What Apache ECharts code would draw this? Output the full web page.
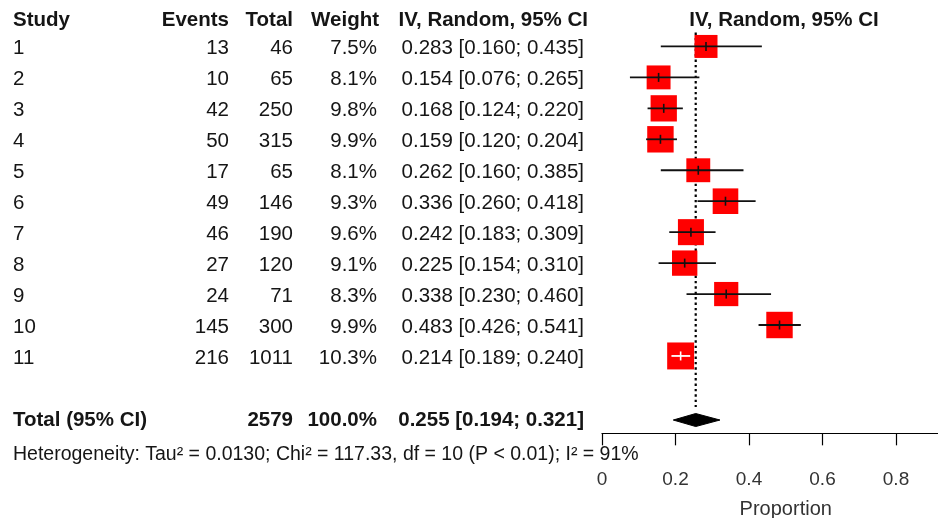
<!DOCTYPE html>
<html>
<head>
<meta charset="utf-8">
<script src="https://cdn.jsdelivr.net/npm/echarts@6/dist/echarts.min.js"></script>
<style>
html,body{margin:0;padding:0;background:#fff;}
#chart{width:938px;height:518px;}
</style>
</head>
<body>
<div id="chart"></div>
<script>
// ---- data ----
const studies = ['1','2','3','4','5','6','7','8','9','10','11'];
const events  = [13, 10, 42, 50, 17, 49, 46, 27, 24, 145, 216];
const totals  = [46, 65, 250, 315, 65, 146, 190, 120, 71, 300, 1011];
const weights = [7.5, 8.1, 9.8, 9.9, 8.1, 9.3, 9.6, 9.1, 8.3, 9.9, 10.3];
const est     = [0.283, 0.154, 0.168, 0.159, 0.262, 0.336, 0.242, 0.225, 0.338, 0.483, 0.214];
const lower   = [0.160, 0.076, 0.124, 0.120, 0.160, 0.260, 0.183, 0.154, 0.230, 0.426, 0.189];
const upper   = [0.435, 0.265, 0.220, 0.204, 0.385, 0.418, 0.309, 0.310, 0.460, 0.541, 0.240];
const pooledEst = 0.255, pooledLower = 0.194, pooledUpper = 0.321;
const pooledTotal = 2579, pooledWeight = '100.0%';
const headers = ['Study', 'Events', 'Total', 'Weight', 'IV, Random, 95% CI'];
const plotHeader = 'IV, Random, 95% CI';
const totalLabel = 'Total (95% CI)';
const hetText = 'Heterogeneity: Tau² = 0.0130; Chi² = 117.33, df = 10 (P < 0.01); I² = 91%';
const xTicks = [0, 0.2, 0.4, 0.6, 0.8];
const xName = 'Proportion';

// ---- layout ----
const ROW_H = 30.95, TOP = 15.5, TEXT_SHIFT = 2;
const FONT = "'Liberation Sans', Arial, sans-serif";
const FS = 20.5;
const TXT = '#151515';
const COL = {study: 13, events: 229, total: 293, weight: 377, ci: 584, ciHead: 588};
const HEAD_ROW = 0.1, TOTAL_ROW = 13, HET_ROW = 14.12;

const fmt3 = v => v.toFixed(3);
const ciStr = (e, l, u) => fmt3(e) + ' [' + fmt3(l) + '; ' + fmt3(u) + ']';

// text items: [x, row, text, align, bold, fontSize]
const textItems = [];
textItems.push([COL.study, HEAD_ROW, headers[0], 'left', true, FS]);
textItems.push([COL.events, HEAD_ROW, headers[1], 'right', true, FS]);
textItems.push([COL.total, HEAD_ROW, headers[2], 'right', true, FS]);
textItems.push([COL.weight + 2, HEAD_ROW, headers[3], 'right', true, FS]);
textItems.push([COL.ciHead, HEAD_ROW, headers[4], 'right', true, FS]);
textItems.push([784, HEAD_ROW, plotHeader, 'center', true, FS]);
studies.forEach((s, i) => {
  const r = i + 1;
  textItems.push([COL.study, r, s, 'left', false, FS]);
  textItems.push([COL.events, r, String(events[i]), 'right', false, FS]);
  textItems.push([COL.total, r, String(totals[i]), 'right', false, FS]);
  textItems.push([COL.weight, r, weights[i].toFixed(1) + '%', 'right', false, FS]);
  textItems.push([COL.ci, r, ciStr(est[i], lower[i], upper[i]), 'right', false, FS]);
});
textItems.push([COL.study, TOTAL_ROW, totalLabel, 'left', true, FS]);
textItems.push([COL.total, TOTAL_ROW, String(pooledTotal), 'right', true, FS]);
textItems.push([COL.weight, TOTAL_ROW, pooledWeight, 'right', true, FS]);
textItems.push([COL.ci, TOTAL_ROW, ciStr(pooledEst, pooledLower, pooledUpper), 'right', true, FS]);
textItems.push([COL.study, HET_ROW, hetText, 'left', false, 19.5]);

const studyData = studies.map((s, i) => [est[i], i + 1, lower[i], upper[i], weights[i]]);

const chart = echarts.init(document.getElementById('chart'), null, {renderer: 'canvas'});
chart.setOption({
  backgroundColor: '#ffffff',
  animation: false,
  grid: [
    {left: 602, top: TOP, width: 367.5, height: ROW_H * 13.5, outerBoundsMode: 'none', containLabel: false},
    {left: 0, top: TOP + TEXT_SHIFT, width: 938, height: ROW_H * 15, outerBoundsMode: 'none', containLabel: false}
  ],
  xAxis: [
    {
      type: 'value', gridIndex: 0, min: 0, max: 1, interval: 0.2,
      splitLine: {show: false},
      axisLine: {show: true, onZero: false, lineStyle: {color: '#000', width: 1.2}},
      axisTick: {show: true, length: 12, lineStyle: {color: '#000', width: 1.2}, customValues: xTicks},
      axisLabel: {show: true, margin: 37, fontSize: 19, fontFamily: FONT, color: '#333', customValues: xTicks,
                  formatter: v => String(v)},
      name: xName, nameLocation: 'middle', nameGap: 66,
      nameTextStyle: {fontSize: 20, fontFamily: FONT, color: '#333'}
    },
    {type: 'value', gridIndex: 1, min: 0, max: 938, show: false}
  ],
  yAxis: [
    {type: 'value', gridIndex: 0, min: 0, max: 13.5, inverse: true, show: false},
    {type: 'value', gridIndex: 1, min: 0, max: 15, inverse: true, show: false}
  ],
  series: [
    // reference (pooled) dotted line
    {
      type: 'custom', xAxisIndex: 0, yAxisIndex: 0, z: 1,
      data: [[pooledEst, 0.55, 12.65]],
      renderItem: (params, api) => {
        const p1 = api.coord([api.value(0), api.value(1)]);
        const p2 = api.coord([api.value(0), api.value(2)]);
        return {type: 'line', shape: {x1: p1[0], y1: p1[1], x2: p2[0], y2: p2[1]},
                style: {stroke: '#000', lineWidth: 2.2, lineDash: [2.4, 3]}};
      }
    },
    // study squares + CIs
    {
      type: 'custom', xAxisIndex: 0, yAxisIndex: 0, z: 3,
      data: studyData,
      renderItem: (params, api) => {
        const c = api.coord([api.value(0), api.value(1)]);
        const l = api.coord([api.value(2), api.value(1)]);
        const u = api.coord([api.value(3), api.value(1)]);
        const size = 8.4 * Math.sqrt(api.value(4));
        const half = size / 2;
        const inside = l[0] >= c[0] - half && u[0] <= c[0] + half;
        const lc = inside ? '#ffffff' : '#111';
        return {type: 'group', children: [
          {type: 'rect', shape: {x: c[0] - half, y: c[1] - half, width: size, height: size},
           style: {fill: '#ff0000'}},
          {type: 'line', shape: {x1: l[0], y1: c[1], x2: u[0], y2: c[1]},
           style: {stroke: lc, lineWidth: 1.8}},
          {type: 'line', shape: {x1: c[0], y1: c[1] - 4.5, x2: c[0], y2: c[1] + 4.5},
           style: {stroke: lc, lineWidth: 1.6}}
        ]};
      }
    },
    // pooled diamond
    {
      type: 'custom', xAxisIndex: 0, yAxisIndex: 0, z: 3,
      data: [[pooledEst, TOTAL_ROW + 0.07, pooledLower, pooledUpper]],
      renderItem: (params, api) => {
        const c = api.coord([api.value(0), api.value(1)]);
        const l = api.coord([api.value(2), api.value(1)]);
        const u = api.coord([api.value(3), api.value(1)]);
        const h = 6.5;
        return {type: 'polygon', shape: {points: [[l[0], c[1]], [c[0], c[1] - h], [u[0], c[1]], [c[0], c[1] + h]]},
                style: {fill: '#000', stroke: '#000', lineWidth: 1}};
      }
    },
    // table text
    {
      type: 'custom', xAxisIndex: 1, yAxisIndex: 1, z: 5,
      data: textItems,
      renderItem: (params, api) => {
        const it = textItems[params.dataIndex];
        const p = api.coord([it[0], it[1]]);
        return {type: 'text', x: p[0], y: p[1],
                style: {text: it[2], textAlign: it[3], textVerticalAlign: 'middle',
                        fontFamily: FONT, fontSize: it[5], fontWeight: it[4] ? 'bold' : 'normal', fill: TXT}};
      }
    }
  ]
});
</script>
</body>
</html>
